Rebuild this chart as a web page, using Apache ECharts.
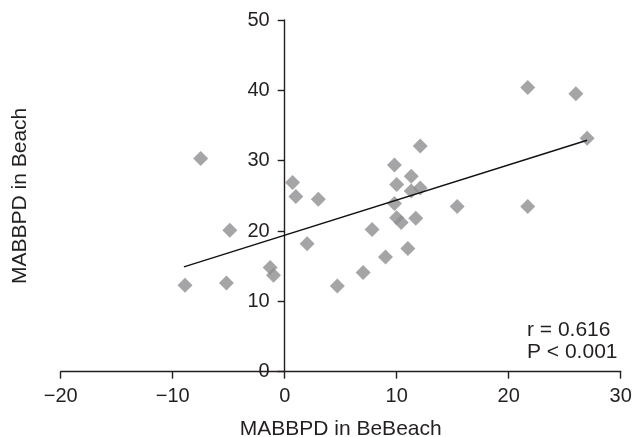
<!DOCTYPE html>
<html>
<head>
<meta charset="utf-8">
<style>
  html, body { margin: 0; padding: 0; background: #fff; }
  #chart { width: 632px; height: 437px; }
</style>
<script src="https://cdn.jsdelivr.net/npm/echarts@6/dist/echarts.min.js"></script>
</head>
<body>
<div id="chart"></div>
<script>
// MABBPD in BeBeach (x) vs MABBPD in Beach (y)
const beBeach = [-8.9, -7.5, -5.2, -4.9, -1.3, -1.0, 0.7, 1.0, 2.0, 3.0, 4.7, 7.0, 7.8, 9.0, 9.8,
  9.8, 10.0, 10.0, 10.4, 11.0, 11.3, 11.3, 11.7, 12.1, 12.1, 15.4, 21.7, 21.7, 26.0, 27.0];
const beach = [12.3, 30.3, 12.6, 20.1, 14.8, 13.7, 26.9, 24.9, 18.2, 24.5, 12.2, 14.1, 20.2, 16.3, 29.4,
  23.9, 26.6, 21.9, 21.2, 17.5, 27.8, 25.7, 21.8, 32.1, 26.1, 23.5, 40.4, 23.5, 39.5, 33.2];

// fitted line end points
const fitX = [-9, 27];
const fitY = [14.9, 32.9];

const statLines = ["r = 0.616", "P < 0.001"];

const ink = "#231f20";
const font = "'Liberation Sans', Arial, Helvetica, sans-serif";
const minus = (v) => String(v).replace("-", "\u2212");

const chart = echarts.init(document.getElementById("chart"));

// y axis sits at x = 0, i.e. 224px right of the grid's left edge
const yOffset = -224;

chart.setOption({
  animation: false,
  backgroundColor: "#fff",
  textStyle: { fontFamily: font },
  grid: {
    left: 60.7, right: 11.3, top: 20, bottom: 65.3,
    containLabel: false, outerBoundsMode: "none",
  },
  xAxis: {
    type: "value",
    min: -20,
    max: 30,
    interval: 10,
    name: "MABBPD in BeBeach",
    nameLocation: "middle",
    nameGap: 47,
    nameTextStyle: { color: ink, fontSize: 21, fontFamily: font },
    axisLine: { onZero: false, lineStyle: { color: ink, width: 1.4 } },
    axisTick: { length: 7, lineStyle: { color: ink, width: 1.4 } },
    axisLabel: { color: ink, fontSize: 20, margin: 15, fontFamily: font, formatter: minus },
    splitLine: { show: false },
  },
  yAxis: {
    type: "value",
    min: 0,
    max: 50,
    interval: 10,
    offset: yOffset,
    name: "MABBPD in Beach",
    nameLocation: "middle",
    nameGap: 254,
    nameTextStyle: { color: ink, fontSize: 21, fontFamily: font },
    axisLine: { onZero: false, lineStyle: { color: ink, width: 1.4 } },
    axisTick: { length: 7, lineStyle: { color: ink, width: 1.4 } },
    axisLabel: { color: ink, fontSize: 20, margin: 15, fontFamily: font },
    splitLine: { show: false },
  },
  graphic: statLines.map((t, i) => ({
    type: "text",
    left: 527,
    top: 319.5 + i * 22.5,
    style: { text: t, fill: ink, fontSize: 21, fontFamily: font },
  })),
  series: [
    {
      type: "scatter",
      symbol: "diamond",
      symbolSize: 15,
      itemStyle: { color: "#8e8e91" },
      data: beBeach.map((x, i) => [x, beach[i]]),
    },
    {
      type: "line",
      symbol: "none",
      lineStyle: { color: "#111", width: 1.4 },
      data: fitX.map((x, i) => [x, fitY[i]]),
      z: 3,
    },
  ],
});
</script>
</body>
</html>
